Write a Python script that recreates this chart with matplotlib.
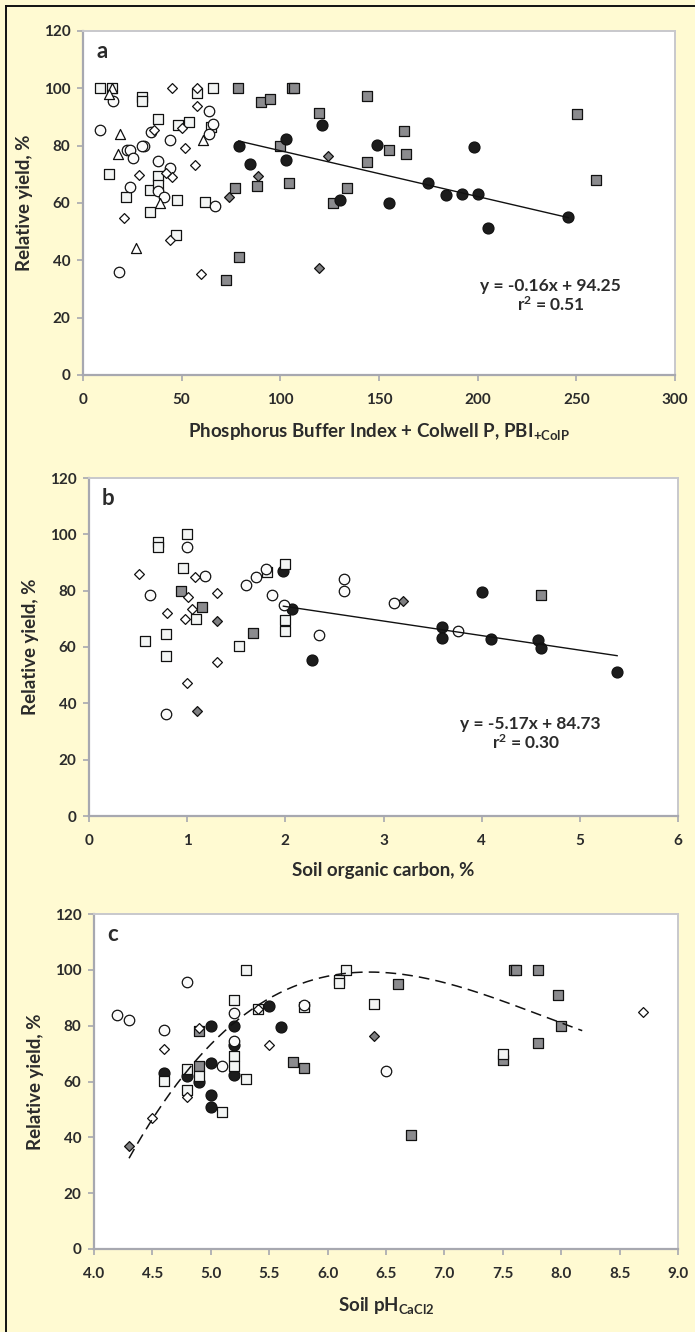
import numpy as np
import matplotlib
matplotlib.use("Agg")
import matplotlib.pyplot as plt
from matplotlib.lines import Line2D

# ---- 字体与基本样式 ----
plt.rcParams['font.family'] = ['Lato', 'DejaVu Sans']
plt.rcParams['font.weight'] = 'bold'
plt.rcParams['mathtext.fontset'] = 'custom'
plt.rcParams['mathtext.rm'] = 'Lato:bold'
plt.rcParams['mathtext.it'] = 'Lato:bold'
plt.rcParams['mathtext.bf'] = 'Lato:bold'

BG = '#fffad2'
TXT = '#2b2b2b'

# ===========================
# 数据
# ===========================
# --- a: PBI + Colwell P ---
a_sq_open_x = [8.6, 14.5, 30, 30, 13.3, 38, 48, 53.7, 58, 65.7, 22, 34, 34, 38, 38, 47.5, 47, 62, 64.7]
a_sq_open_y = [100, 100, 97, 95.5, 70, 89.3, 87.2, 88.1, 98.3, 100, 62, 64.5, 56.9, 69.4, 66.3, 61, 49, 60.2, 86.6]
a_circ_open_x = [8.6, 15, 22.3, 24, 25.5, 23.8, 31, 30, 34.3, 38, 37.8, 41, 44, 44, 18.4, 64, 64, 65.7, 67]
a_circ_open_y = [85.5, 95.7, 78.5, 78.5, 75.8, 65.7, 80, 80, 84.7, 74.8, 64.3, 62, 82, 72.2, 36, 92.2, 84, 87.6, 59]
a_tri_x = [14.7, 13, 19, 17.7, 26.9, 61, 39]
a_tri_y = [100, 98, 84, 77, 44.2, 82, 60]
a_dia_open_x = [45, 58, 58, 50, 51.5, 57, 28.5, 45, 21, 44, 60, 42, 36]
a_dia_open_y = [100, 100, 94, 86, 79.3, 73.4, 69.7, 69, 54.7, 47, 35.2, 70.4, 85.5]
a_sq_gray_x = [78.4, 90, 95, 106, 107, 99.8, 104.6, 77, 88, 79, 72.3, 119.8, 126.7, 133.6,
               144.1, 162.5, 154.9, 163.5, 144.1, 250.2, 260]
a_sq_gray_y = [100, 95.1, 96.2, 100, 100, 80, 67, 65.1, 66, 41.2, 33, 91.3, 60.1, 65.1,
               97.2, 85.2, 78.4, 77.1, 74.2, 91.2, 68.1]
a_dia_gray_x = [74, 88.5, 119.8, 124]
a_dia_gray_y = [62.1, 69.5, 37.4, 76.4]
a_circ_black_x = [78.9, 84.8, 102.7, 102.7, 121, 130, 149, 154.9, 174.9, 183.8, 192.1, 200, 198, 205.1, 246]
a_circ_black_y = [80, 73.5, 82.2, 75, 87.1, 61.2, 80.1, 60, 67.1, 62.7, 63.1, 63, 79.5, 51.2, 55.2]
a_slope, a_intercept, a_r2 = -0.16, 94.25, 0.51

# --- b: 土壤有机碳 ---
b_sq_open_x = [0.70, 0.70, 1.0, 0.96, 1.085, 0.78, 0.78, 0.57, 1.53, 1.81, 2.0, 2.0, 2.0]
b_sq_open_y = [97.3, 95.6, 100, 88.2, 70, 64.7, 56.8, 62.2, 60.4, 86.7, 89.5, 69.6, 65.7]
b_circ_open_x = [0.62, 1.0, 1.18, 0.78, 1.6, 1.7, 1.8, 1.86, 1.99, 2.34, 2.6, 2.6, 3.11, 3.76]
b_circ_open_y = [78.6, 95.5, 85.3, 36.1, 82.1, 84.7, 87.6, 78.6, 74.9, 64.1, 84.1, 80, 75.7, 65.8]
b_dia_open_x = [0.51, 0.79, 1.01, 0.98, 1.05, 1.08, 1.30, 1.30, 1.0]
b_dia_open_y = [85.8, 72, 77.6, 69.8, 73.5, 85, 79, 54.8, 47.1]
b_sq_gray_x = [0.94, 1.15, 1.67, 4.6]
b_sq_gray_y = [80, 74.2, 65.1, 78.4]
b_dia_gray_x = [1.30, 1.10, 3.2]
b_dia_gray_y = [69.2, 37.3, 76.3]
b_circ_black_x = [1.98, 2.07, 2.27, 4.0, 3.6, 3.6, 4.1, 4.57, 4.6, 5.38]
b_circ_black_y = [87.1, 73.5, 55.3, 79.4, 67, 63.1, 62.8, 62.6, 59.8, 51.1]
b_slope, b_intercept, b_r2 = -5.17, 84.73, 0.30

# --- c: 土壤 pH ---
c_sq_open_x = [5.3, 5.2, 5.2, 5.2, 5.3, 5.1, 4.8, 4.8, 4.9, 4.6, 5.8, 5.4, 6.1, 6.1, 6.16, 6.4, 7.5]
c_sq_open_y = [100, 89.3, 69.2, 65.4, 61, 49, 64.4, 56.8, 62.1, 60.3, 86.8, 86, 96.4, 95.2, 100, 87.7, 69.7]
c_circ_open_x = [4.2, 4.3, 4.8, 4.6, 5.1, 5.2, 5.2, 5.8, 6.5]
c_circ_open_y = [84, 82, 95.5, 78.3, 65.4, 84.5, 74.6, 87.5, 63.9]
c_dia_open_x = [4.6, 4.5, 4.8, 4.9, 5.4, 5.5, 8.7]
c_dia_open_y = [71.8, 47, 54.4, 79.1, 86, 73.2, 84.9]
c_sq_gray_x = [4.9, 4.9, 5.7, 5.8, 6.6, 6.71, 7.6, 7.61, 7.8, 7.97, 8.0, 7.8, 7.5]
c_sq_gray_y = [78, 65.4, 67, 65, 95, 40.8, 100, 100, 100, 91, 79.9, 73.9, 67.7]
c_dia_gray_x = [4.3, 6.4]
c_dia_gray_y = [37, 76.3]
c_circ_black_x = [5.0, 5.2, 5.0, 5.0, 5.0, 4.9, 4.8, 4.6, 5.2, 5.2, 5.5, 5.6]
c_circ_black_y = [80, 80, 66.8, 55, 51, 59.7, 62, 63, 73.2, 62.4, 86.9, 79.4]
# 三次趋势线系数（以 pH=6.0 为中心）
c_poly = [2.431, -13.359, 8.625, 97.715]
c_poly_center = 6.0
c_poly_range = (4.3, 8.18)

# ===========================
# 标记样式
# ===========================
STYLES = {
    'sq_gray':    dict(marker='s', s=56, facecolor='#8b8b8e', zorder=3),
    'circ_black': dict(marker='o', s=62, facecolor='#1c1c1c', zorder=4),
    'sq_open':    dict(marker='s', s=52, facecolor='#f3f5f4', zorder=5),
    'dia_gray':   dict(marker='D', s=25, facecolor='#7e7e80', zorder=6),
    'circ_open':  dict(marker='o', s=57, facecolor='#fbfbfb', zorder=7),
    'dia_open':   dict(marker='D', s=25, facecolor='white', zorder=8),
    'tri':        dict(marker='^', s=52, facecolor='white', zorder=9),
}


def pts(ax, x, y, kind):
    st = STYLES[kind]
    ax.scatter(x, y, marker=st['marker'], s=st['s'], facecolors=st['facecolor'],
               edgecolors='#111111', linewidths=0.9, zorder=st['zorder'], clip_on=False)


def style_axes(ax, xlim, xticks, xfmt, label_text, letter):
    ax.set_facecolor('white')
    ax.set_xlim(*xlim)
    ax.set_ylim(0, 120)
    ax.set_xticks(xticks)
    ax.set_xticklabels([xfmt.format(t) for t in xticks])
    ax.set_yticks(range(0, 121, 20))
    for side in ['left', 'bottom']:
        ax.spines[side].set_color('#a7a8b0')
        ax.spines[side].set_linewidth(1.6)
    for side in ['top', 'right']:
        ax.spines[side].set_color('#c8c8cc')
        ax.spines[side].set_linewidth(1.4)
    ax.tick_params(axis='both', direction='out', length=4, width=1.2, color='#a7a8b0',
                   labelsize=11, labelcolor=TXT)
    ax.tick_params(axis='x', pad=9)
    ax.tick_params(axis='y', pad=5)
    for lab in ax.get_xticklabels() + ax.get_yticklabels():
        lab.set_fontweight('bold')
    ax.set_ylabel('Relative yield, %', fontsize=13.5, fontweight='bold', color=TXT, labelpad=8)
    ax.set_xlabel(label_text, fontsize=13.5, fontweight='bold', color=TXT, labelpad=10)
    ax.text(0.022, 0.94, letter, transform=ax.transAxes, fontsize=16, fontweight='bold',
            color=TXT, ha='left', va='center')


fig = plt.figure(figsize=(6.95, 13.32), dpi=100)
fig.patch.set_facecolor(BG)

W, H = 695.0, 1332.0
ax_a = fig.add_axes([83 / W, 1 - 375 / H, 592 / W, 344 / H])
ax_b = fig.add_axes([89 / W, 1 - 816 / H, 589 / W, 338 / H])
ax_c = fig.add_axes([94 / W, 1 - 1249 / H, 584 / W, 335 / H])

# ---- a ----
pts(ax_a, a_sq_gray_x, a_sq_gray_y, 'sq_gray')
pts(ax_a, a_circ_black_x, a_circ_black_y, 'circ_black')
pts(ax_a, a_sq_open_x, a_sq_open_y, 'sq_open')
pts(ax_a, a_dia_gray_x, a_dia_gray_y, 'dia_gray')
pts(ax_a, a_circ_open_x, a_circ_open_y, 'circ_open')
pts(ax_a, a_dia_open_x, a_dia_open_y, 'dia_open')
pts(ax_a, a_tri_x, a_tri_y, 'tri')
xa = np.array([min(a_circ_black_x), max(a_circ_black_x)])
ax_a.plot(xa, a_slope * xa + a_intercept, color='#111111', lw=1.0, zorder=10)
ax_a.text(237, 31, f'y = {a_slope:.2f}x + {a_intercept:.2f}', ha='center', va='center',
          fontsize=12.5, fontweight='bold', color=TXT)
ax_a.text(237, 24.6, f'r$^{{\\mathregular{{2}}}}$ = {a_r2:.2f}', ha='center', va='center',
          fontsize=12.5, fontweight='bold', color=TXT)
style_axes(ax_a, (0, 300), list(range(0, 301, 50)), '{:d}',
           'Phosphorus Buffer Index + Colwell P, PBI$_{\\mathregular{+ColP}}$', 'a')

# ---- b ----
pts(ax_b, b_sq_gray_x, b_sq_gray_y, 'sq_gray')
pts(ax_b, b_circ_black_x, b_circ_black_y, 'circ_black')
pts(ax_b, b_sq_open_x, b_sq_open_y, 'sq_open')
pts(ax_b, b_dia_gray_x, b_dia_gray_y, 'dia_gray')
pts(ax_b, b_circ_open_x, b_circ_open_y, 'circ_open')
pts(ax_b, b_dia_open_x, b_dia_open_y, 'dia_open')
xb = np.array([min(b_circ_black_x), max(b_circ_black_x)])
ax_b.plot(xb, b_slope * xb + b_intercept, color='#111111', lw=1.0, zorder=10)
ax_b.text(4.5, 32.5, f'y = {b_slope:.2f}x + {b_intercept:.2f}', ha='center', va='center',
          fontsize=12.5, fontweight='bold', color=TXT)
ax_b.text(4.45, 26.2, f'r$^{{\\mathregular{{2}}}}$ = {b_r2:.2f}', ha='center', va='center',
          fontsize=12.5, fontweight='bold', color=TXT)
style_axes(ax_b, (0, 6), list(range(0, 7)), '{:d}', 'Soil organic carbon, %', 'b')

# ---- c ----
pts(ax_c, c_sq_gray_x, c_sq_gray_y, 'sq_gray')
pts(ax_c, c_circ_black_x, c_circ_black_y, 'circ_black')
pts(ax_c, c_sq_open_x, c_sq_open_y, 'sq_open')
pts(ax_c, c_dia_gray_x, c_dia_gray_y, 'dia_gray')
pts(ax_c, c_circ_open_x, c_circ_open_y, 'circ_open')
pts(ax_c, c_dia_open_x, c_dia_open_y, 'dia_open')
xc = np.linspace(c_poly_range[0], c_poly_range[1], 200)
ax_c.plot(xc, np.polyval(c_poly, xc - c_poly_center), color='#111111', lw=1.1,
          linestyle=(0, (7, 4)), zorder=10)
style_axes(ax_c, (4, 9), [4.0, 4.5, 5.0, 5.5, 6.0, 6.5, 7.0, 7.5, 8.0, 8.5, 9.0], '{:.1f}',
           'Soil pH$_{\\mathregular{CaCl2}}$', 'c')

# ---- 外框（左、上黑线）----
fig.add_artist(Line2D([6 / W, 6 / W], [0, 1 - 6 / H], color='#111111', lw=1.4,
                      transform=fig.transFigure))
fig.add_artist(Line2D([6 / W, 1], [1 - 6 / H, 1 - 6 / H], color='#111111', lw=1.4,
                      transform=fig.transFigure))

fig.savefig('out.png', dpi=100, facecolor=BG)
